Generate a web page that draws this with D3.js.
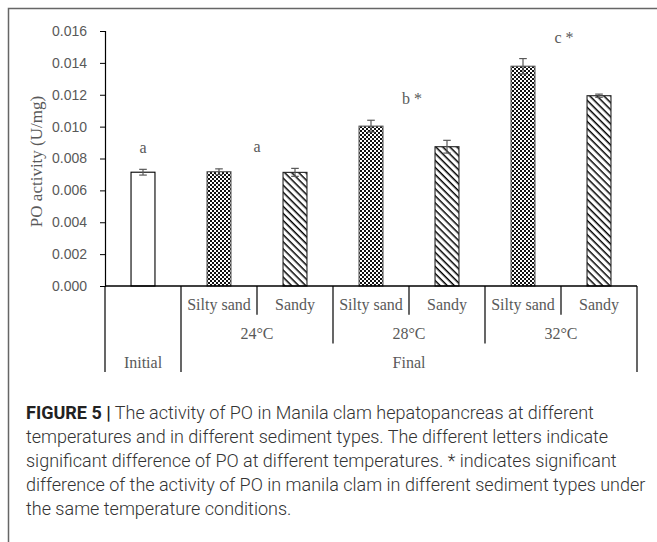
<!DOCTYPE html>
<html>
<head>
<meta charset="utf-8">
<script src="https://cdn.jsdelivr.net/npm/d3@7"></script>
<style>
  body { margin: 0; background: #fff; }
  svg { display: block; }
</style>
</head>
<body>
<div id="chart"></div>
<script>
// Chart data
const barIds = ['Initial', '24 Silty sand', '24 Sandy', '28 Silty sand', '28 Sandy', '32 Silty sand', '32 Sandy'];
const barSediment = ['none', 'Silty sand', 'Sandy', 'Silty sand', 'Sandy', 'Silty sand', 'Sandy'];
const barValues = [0.00714, 0.00717, 0.00713, 0.01003, 0.00874, 0.01379, 0.01194];
const barErrors = [0.00018, 0.00018, 0.00025, 0.00037, 0.00040, 0.00048, 0.00010];

const tempLabels = ['24°C', '28°C', '32°C'];
const tempMembers = [[1, 2], [3, 4], [5, 6]];
const stageLabels = ['Initial', 'Final'];
const stageMembers = [[0], [1, 2, 3, 4, 5, 6]];

// significance letters: initial, then one per temperature
const letterLabels = ['a', 'a', 'b *', 'c *'];
const letterMembers = [[0], [1, 2], [3, 4], [5, 6]];

const yTicks = [0, 0.002, 0.004, 0.006, 0.008, 0.010, 0.012, 0.014, 0.016];
const yTitle = 'PO activity (U/mg)';

const captionBold = 'FIGURE 5 |';
const captionLines = [
  ' The activity of PO in Manila clam hepatopancreas at different',
  'temperatures and in different sediment types. The different letters indicate',
  'significant difference of PO at different temperatures. * indicates significant',
  'difference of the activity of PO in manila clam in different sediment types under',
  'the same temperature conditions.'
];

const width = 657, height = 542;
const plot = { left: 105, right: 637, top: 31, bottom: 286 };
const rowH = 28.7;
const serif = '"Liberation Serif", "Times New Roman", serif';
const sans = '"Liberation Sans", Arial, sans-serif';
const grey = '#595959';

const svg = d3.select('#chart').append('svg')
  .attr('width', width)
  .attr('height', height);

// Patterns for the sediment types
const defs = svg.append('defs');
const checker = defs.append('pattern')
  .attr('id', 'checker')
  .attr('patternUnits', 'userSpaceOnUse')
  .attr('width', 4).attr('height', 4);
checker.append('rect').attr('width', 4).attr('height', 4).attr('fill', '#111');
checker.append('rect').attr('x', 0).attr('y', 0).attr('width', 2).attr('height', 2).attr('fill', '#fff');
checker.append('rect').attr('x', 2).attr('y', 2).attr('width', 2).attr('height', 2).attr('fill', '#fff');

const hatch = defs.append('pattern')
  .attr('id', 'hatch')
  .attr('patternUnits', 'userSpaceOnUse')
  .attr('width', 5).attr('height', 5)
  .attr('patternTransform', 'rotate(45)');
hatch.append('rect').attr('width', 5).attr('height', 5).attr('fill', '#fff');
hatch.append('line')
  .attr('x1', 0).attr('y1', 0).attr('x2', 5).attr('y2', 0)
  .attr('stroke', '#000').attr('stroke-width', 3);

const fillFor = { 'none': '#fff', 'Silty sand': 'url(#checker)', 'Sandy': 'url(#hatch)' };
const strokeFor = { 'none': '#000', 'Silty sand': '#555', 'Sandy': '#222' };

// Frame of the figure panel
svg.append('path')
  .attr('d', `M8.5,${height} V8.5 H${width}`)
  .attr('fill', 'none')
  .attr('stroke', '#666')
  .attr('stroke-width', 1.5);

// Scales
const x = d3.scaleBand()
  .domain(barIds)
  .range([plot.left, plot.right]);

const y = d3.scaleLinear()
  .domain([0, 0.016])
  .range([plot.bottom, plot.top]);

const barW = x.bandwidth() * 0.315;
const cx = i => x(barIds[i]) + x.bandwidth() / 2;

// Y axis
const yAxis = svg.append('g')
  .attr('transform', `translate(${plot.left},0)`)
  .call(d3.axisLeft(y).tickValues(yTicks).tickFormat(d3.format('.3f')).tickSize(5).tickPadding(13));
yAxis.select('.domain').attr('stroke', '#000').attr('stroke-width', 1.2);
yAxis.selectAll('.tick line').attr('stroke', '#000');
yAxis.selectAll('.tick text')
  .attr('fill', grey)
  .attr('font-family', sans)
  .attr('font-size', 14);

svg.append('text')
  .attr('transform', `translate(42,${(plot.top + plot.bottom) / 2 + 3}) rotate(-90)`)
  .attr('text-anchor', 'middle')
  .attr('font-family', serif)
  .attr('font-size', 17)
  .attr('fill', grey)
  .text(yTitle);

// Bars
const bars = barIds.map((id, i) => ({ id, i, v: barValues[i], e: barErrors[i], s: barSediment[i] }));

svg.append('g').selectAll('rect')
  .data(bars)
  .enter()
  .append('rect')
  .attr('x', d => cx(d.i) - barW / 2)
  .attr('y', d => y(d.v))
  .attr('width', barW)
  .attr('height', d => y(0) - y(d.v))
  .attr('fill', d => fillFor[d.s])
  .attr('stroke', d => strokeFor[d.s])
  .attr('stroke-width', 1.1);

// Error bars
const err = svg.append('g')
  .attr('stroke', grey)
  .attr('stroke-width', 1.2)
  .selectAll('g')
  .data(bars)
  .enter()
  .append('g');
err.append('line')
  .attr('x1', d => cx(d.i)).attr('x2', d => cx(d.i))
  .attr('y1', d => y(d.v - d.e)).attr('y2', d => y(d.v + d.e));
err.append('line')
  .attr('x1', d => cx(d.i) - 3.8).attr('x2', d => cx(d.i) + 3.8)
  .attr('y1', d => y(d.v + d.e)).attr('y2', d => y(d.v + d.e));
err.append('line')
  .attr('x1', d => cx(d.i) - 3.8).attr('x2', d => cx(d.i) + 3.8)
  .attr('y1', d => y(d.v - d.e)).attr('y2', d => y(d.v - d.e));

// Significance letters above each group
svg.append('g').selectAll('text')
  .data(letterLabels)
  .enter()
  .append('text')
  .attr('x', (d, k) => d3.mean(letterMembers[k], cx) + (d.length > 1 ? 3 : 0))
  .attr('y', (d, k) => d3.min(letterMembers[k], i => y(barValues[i] + barErrors[i])) - 16)
  .attr('text-anchor', 'middle')
  .attr('font-family', serif)
  .attr('font-size', 16)
  .attr('fill', grey)
  .text(d => d);

// Multi-level category axis
const axisG = svg.append('g').attr('stroke', '#000').attr('stroke-width', 1.2);
axisG.append('line')
  .attr('x1', plot.left).attr('x2', plot.right)
  .attr('y1', plot.bottom).attr('y2', plot.bottom)
  .attr('stroke-width', 1.5);

const labelDy = 10;

// row 1: sediment
const row1 = bars.filter(d => d.s !== 'none');
svg.append('g').selectAll('text')
  .data(row1)
  .enter()
  .append('text')
  .attr('x', d => cx(d.i))
  .attr('y', plot.bottom + rowH / 2 + labelDy)
  .attr('text-anchor', 'middle')
  .attr('font-family', serif)
  .attr('font-size', 16)
  .attr('fill', grey)
  .text(d => d.s);

// separators between sediments inside a temperature
axisG.selectAll('.sep1')
  .data(tempMembers)
  .enter()
  .append('line')
  .attr('x1', d => x(barIds[d[1]])).attr('x2', d => x(barIds[d[1]]))
  .attr('y1', plot.bottom).attr('y2', plot.bottom + rowH);

// row 2: temperature
svg.append('g').selectAll('text')
  .data(tempLabels)
  .enter()
  .append('text')
  .attr('x', (d, k) => d3.mean(tempMembers[k], cx))
  .attr('y', plot.bottom + rowH * 1.5 + labelDy)
  .attr('text-anchor', 'middle')
  .attr('font-family', serif)
  .attr('font-size', 16)
  .attr('fill', grey)
  .text(d => d);

axisG.selectAll('.sep2')
  .data(tempMembers.slice(1))
  .enter()
  .append('line')
  .attr('x1', d => x(barIds[d[0]])).attr('x2', d => x(barIds[d[0]]))
  .attr('y1', plot.bottom).attr('y2', plot.bottom + rowH * 2);

// row 3: stage
svg.append('g').selectAll('text')
  .data(stageLabels)
  .enter()
  .append('text')
  .attr('x', (d, k) => d3.mean(stageMembers[k], cx))
  .attr('y', plot.bottom + rowH * 2.5 + labelDy)
  .attr('text-anchor', 'middle')
  .attr('font-family', serif)
  .attr('font-size', 16)
  .attr('fill', grey)
  .text(d => d);

const stageEdges = [plot.left, x(barIds[1]), plot.right];
axisG.selectAll('.sep3')
  .data(stageEdges)
  .enter()
  .append('line')
  .attr('x1', d => d).attr('x2', d => d)
  .attr('y1', plot.bottom).attr('y2', plot.bottom + rowH * 3);

// Caption
const cap = svg.append('g')
  .attr('font-family', '"Roboto", "Liberation Sans", sans-serif')
  .attr('font-size', 18)
  .attr('fill', '#333');
captionLines.forEach((line, k) => {
  const t = cap.append('text')
    .attr('x', 26)
    .attr('y', 419 + k * 24);
  if (k === 0) {
    t.append('tspan').attr('font-weight', 'bold').attr('fill', '#222').text(captionBold);
  }
  t.append('tspan').attr('font-weight', 300).text(line);
});
</script>
</body>
</html>
